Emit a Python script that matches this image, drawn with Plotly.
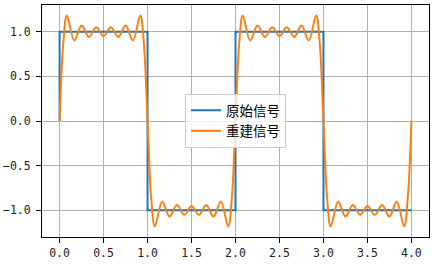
import plotly.graph_objects as go

# Original square wave (step corners)
orig_t = [0.0, 0.0, 1.0, 1.0, 2.0, 2.0, 3.0, 3.0, 4.0]
orig_y = [0.0, 1.0, 1.0, -1.0, -1.0, 1.0, 1.0, -1.0, -1.0]

# Reconstructed signal: values read at extrema / edge points
recon_t = [
    0.0, 0.042, 0.083, 0.167, 0.25, 0.333, 0.417, 0.5, 0.583, 0.667, 0.75, 0.833, 0.917, 0.958,
    1.0, 1.042, 1.083, 1.167, 1.25, 1.333, 1.417, 1.5, 1.583, 1.667, 1.75, 1.833, 1.917, 1.958,
    2.0, 2.042, 2.083, 2.167, 2.25, 2.333, 2.417, 2.5, 2.583, 2.667, 2.75, 2.833, 2.917, 2.958,
    3.0, 3.042, 3.083, 3.167, 3.25, 3.333, 3.417, 3.5, 3.583, 3.667, 3.75, 3.833, 3.917, 3.958,
    4.0,
]
recon_y = [
    0.0, 0.87, 1.18, 0.90, 1.07, 0.94, 1.05, 0.95, 1.05, 0.94, 1.07, 0.90, 1.18, 0.87,
    0.0, -0.87, -1.18, -0.90, -1.07, -0.94, -1.05, -0.95, -1.05, -0.94, -1.07, -0.90, -1.18, -0.87,
    0.0, 0.87, 1.18, 0.90, 1.07, 0.94, 1.05, 0.95, 1.05, 0.94, 1.07, 0.90, 1.18, 0.87,
    0.0, -0.87, -1.18, -0.90, -1.07, -0.94, -1.05, -0.95, -1.05, -0.94, -1.07, -0.90, -1.18, -0.87,
    0.0,
]

x_ticks = [0.0, 0.5, 1.0, 1.5, 2.0, 2.5, 3.0, 3.5, 4.0]
y_ticks = [-1.0, -0.5, 0.0, 0.5, 1.0]
names = ["原始信号", "重建信号"]

fig = go.Figure()
fig.add_trace(go.Scatter(x=orig_t, y=orig_y, mode="lines", name=names[0],
                         line=dict(color="#1f77b4", width=2)))
fig.add_trace(go.Scatter(x=recon_t, y=recon_y, mode="lines", name=names[1],
                         line=dict(color="#ff7f0e", width=2, shape="spline", smoothing=1)))

tick_font = dict(family="DejaVu Sans Mono", size=11.5, color="#222222")
axis_common = dict(showline=True, linecolor="black", linewidth=1, mirror=True,
                   ticks="outside", ticklen=5, tickcolor="black", tickwidth=1,
                   showgrid=True, gridcolor="#b0b0b0", gridwidth=1, zeroline=False,
                   tickfont=tick_font, tickformat=".1f", automargin=False)

fig.update_layout(
    width=442, height=267,
    margin=dict(l=42, r=13, t=5, b=30),
    paper_bgcolor="white", plot_bgcolor="white",
    xaxis=dict(range=[-0.2, 4.2], tickvals=x_ticks, **axis_common),
    yaxis=dict(range=[-1.298, 1.298], tickvals=y_ticks, ticklabelstandoff=3, **axis_common),
    legend=dict(x=0.5, y=0.5, xanchor="center", yanchor="middle",
                bgcolor="rgba(255,255,255,0.8)", bordercolor="#cccccc", borderwidth=1,
                font=dict(family="Noto Sans CJK SC", size=13.5, color="black"),
                itemwidth=30, tracegroupgap=0),
    showlegend=True,
)

fig.write_html("out.html")
